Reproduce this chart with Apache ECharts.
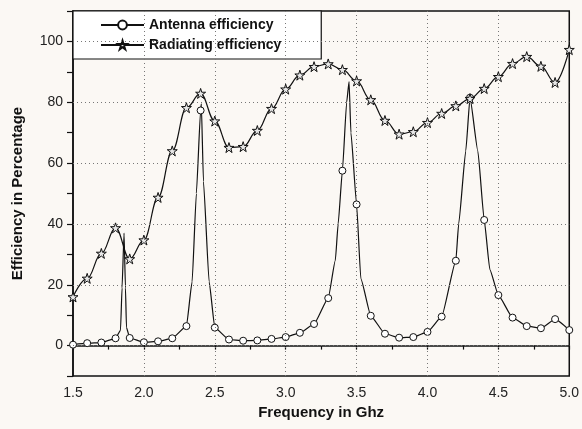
<!DOCTYPE html>
<html>
<head>
<meta charset="utf-8">
<script src="https://cdn.jsdelivr.net/npm/echarts@6/dist/echarts.min.js"></script>
<style>
html,body{margin:0;padding:0;background:#fbf8f4;}
#chart{width:582px;height:429px;}
</style>
</head>
<body>
<div id="chart"></div>
<script>
// Antenna efficiency (circles at every 0.1 GHz; extra points describe the resonance peaks)
const antennaFreq = [1.5,1.6,1.7,1.8,1.835,1.846,1.86,1.87,1.877,1.9,2.0,2.1,2.2,2.3,2.34,2.37,2.4,2.405,2.42,2.46,2.5,2.6,2.7,2.8,2.9,3.0,3.1,3.2,3.3,3.35,3.37,3.4,3.43,3.447,3.46,3.5,3.53,3.6,3.7,3.8,3.9,4.0,4.1,4.2,4.22,4.27,4.3,4.355,4.4,4.44,4.5,4.6,4.7,4.8,4.9,5.0];
const antennaEff  = [0.3,0.8,1.0,2.4,5,19,37,19,6,2.5,1.1,1.4,2.4,6.4,21,50,77.3,79.5,54,21,5.9,2.0,1.6,1.7,2.2,2.8,4.2,7.1,15.6,28,40,57.5,80,86.8,70,46.4,22,9.8,3.9,2.6,2.8,4.5,9.5,27.9,40,64,81.5,64,41.3,25,16.6,9.2,6.4,5.7,8.7,5.1];

// Radiating efficiency (stars at every 0.1 GHz)
const radFreq = [1.5,1.6,1.7,1.8,1.9,2.0,2.1,2.2,2.3,2.4,2.5,2.6,2.7,2.8,2.9,3.0,3.1,3.2,3.3,3.4,3.5,3.6,3.7,3.8,3.9,4.0,4.1,4.2,4.3,4.4,4.5,4.6,4.7,4.8,4.9,5.0];
const radEff  = [16.0,22.1,30.3,38.7,28.5,34.7,48.7,64.0,78.2,82.9,73.8,65.1,65.4,70.7,77.9,84.3,88.9,91.7,92.6,90.7,87.0,80.8,74.0,69.5,70.3,73.3,76.3,78.8,81.2,84.5,88.4,92.7,95.0,91.8,86.5,97.3];

const seriesNames = ['Antenna efficiency', 'Radiating efficiency'];
const xGridValues = [2.0, 2.5, 3.0, 3.5, 4.0, 4.5];
const yGridValues = [0, 20, 40, 60, 80, 100];
const xTitle = 'Frequency in Ghz';
const yTitle = 'Efficiency in Percentage';

const FONT = '"Liberation Sans", Arial, Helvetica, sans-serif';
const STAR = 'path://M50,0 L61.8,36.2 L100,36.2 L69.1,58.6 L80.9,95 L50,72.6 L19.1,95 L30.9,58.6 L0,36.2 L38.2,36.2 Z';

function zip(a, b) { return a.map((v, i) => [v, b[i]]); }
function onTenth(f) { return Math.abs(f * 10 - Math.round(f * 10)) < 1e-6; }

const chart = echarts.init(document.getElementById('chart'), null, {renderer: 'canvas'});
chart.setOption({
  backgroundColor: '#fbf8f4',
  animation: false,
  grid: {left: 73, right: 11, top: 11, bottom: 53, show: true, borderColor: '#111', borderWidth: 1.5, backgroundColor: 'transparent'},
  legend: {
    left: 73, top: 11, orient: 'vertical',
    padding: [7, 40, 7, 27], itemGap: 6,
    itemWidth: 43, itemHeight: 11,
    backgroundColor: '#fff', borderColor: '#111', borderWidth: 1.2, borderRadius: 0,
    textStyle: {fontFamily: FONT, fontWeight: 'bold', fontSize: 14, color: '#111'},
    data: seriesNames
  },
  xAxis: {
    type: 'value', min: 1.5, max: 5.0, interval: 0.25,
    name: xTitle, nameLocation: 'middle', nameGap: 28,
    nameTextStyle: {fontFamily: FONT, fontWeight: 'bold', fontSize: 15, color: '#111'},
    axisLine: {show: true, lineStyle: {color: '#111', width: 1.5}},
    axisTick: {show: true, inside: false, length: 4, lineStyle: {color: '#111', width: 1.2}},
    axisLabel: {
      fontFamily: FONT, fontSize: 14, color: '#222', margin: 10, showMinLabel: true, showMaxLabel: true,
      formatter: function (v) { return Math.abs(v * 2 - Math.round(v * 2)) < 1e-6 ? v.toFixed(1) : ''; }
    },
    splitLine: {show: false}
  },
  yAxis: {
    type: 'value', min: -10, max: 110, interval: 10,
    name: yTitle, nameLocation: 'middle', nameGap: 48,
    nameTextStyle: {fontFamily: FONT, fontWeight: 'bold', fontSize: 15, color: '#111'},
    axisLine: {show: true, lineStyle: {color: '#111', width: 1.5}},
    axisTick: {show: true, inside: false, length: 6, lineStyle: {color: '#111', width: 1.2}},
    axisLabel: {
      fontFamily: FONT, fontSize: 14, color: '#222', margin: 10,
      formatter: function (v) { return (Math.round(v) % 20 === 0) ? String(Math.round(v)) : ''; }
    },
    splitLine: {show: false}
  },
  series: [
    {
      name: seriesNames[0], type: 'line', data: zip(antennaFreq, antennaEff),
      smooth: 0.15, smoothMonotone: 'x', showAllSymbol: true,
      symbol: 'circle',
      symbolSize: function (val) { return onTenth(val[0]) ? 7 : 0; },
      lineStyle: {color: '#111', width: 1.2},
      itemStyle: {color: '#fff', borderColor: '#111', borderWidth: 1},
      z: 3,
      markLine: {
        silent: true, symbol: ['none', 'none'], label: {show: false},
        lineStyle: {color: '#777', type: [1, 3], width: 1},
        emphasis: {disabled: true},
        data: yGridValues.map(v => ({yAxis: v})).concat(xGridValues.map(v => ({xAxis: v})))
      }
    },
    {
      name: seriesNames[1], type: 'line', data: zip(radFreq, radEff),
      smooth: 0.4, smoothMonotone: 'x', showAllSymbol: true,
      symbol: STAR, symbolSize: 10,
      lineStyle: {color: '#111', width: 1.2},
      itemStyle: {color: '#e8e8e8', borderColor: '#111', borderWidth: 1},
      z: 4
    }
  ]
});
</script>
</body>
</html>
